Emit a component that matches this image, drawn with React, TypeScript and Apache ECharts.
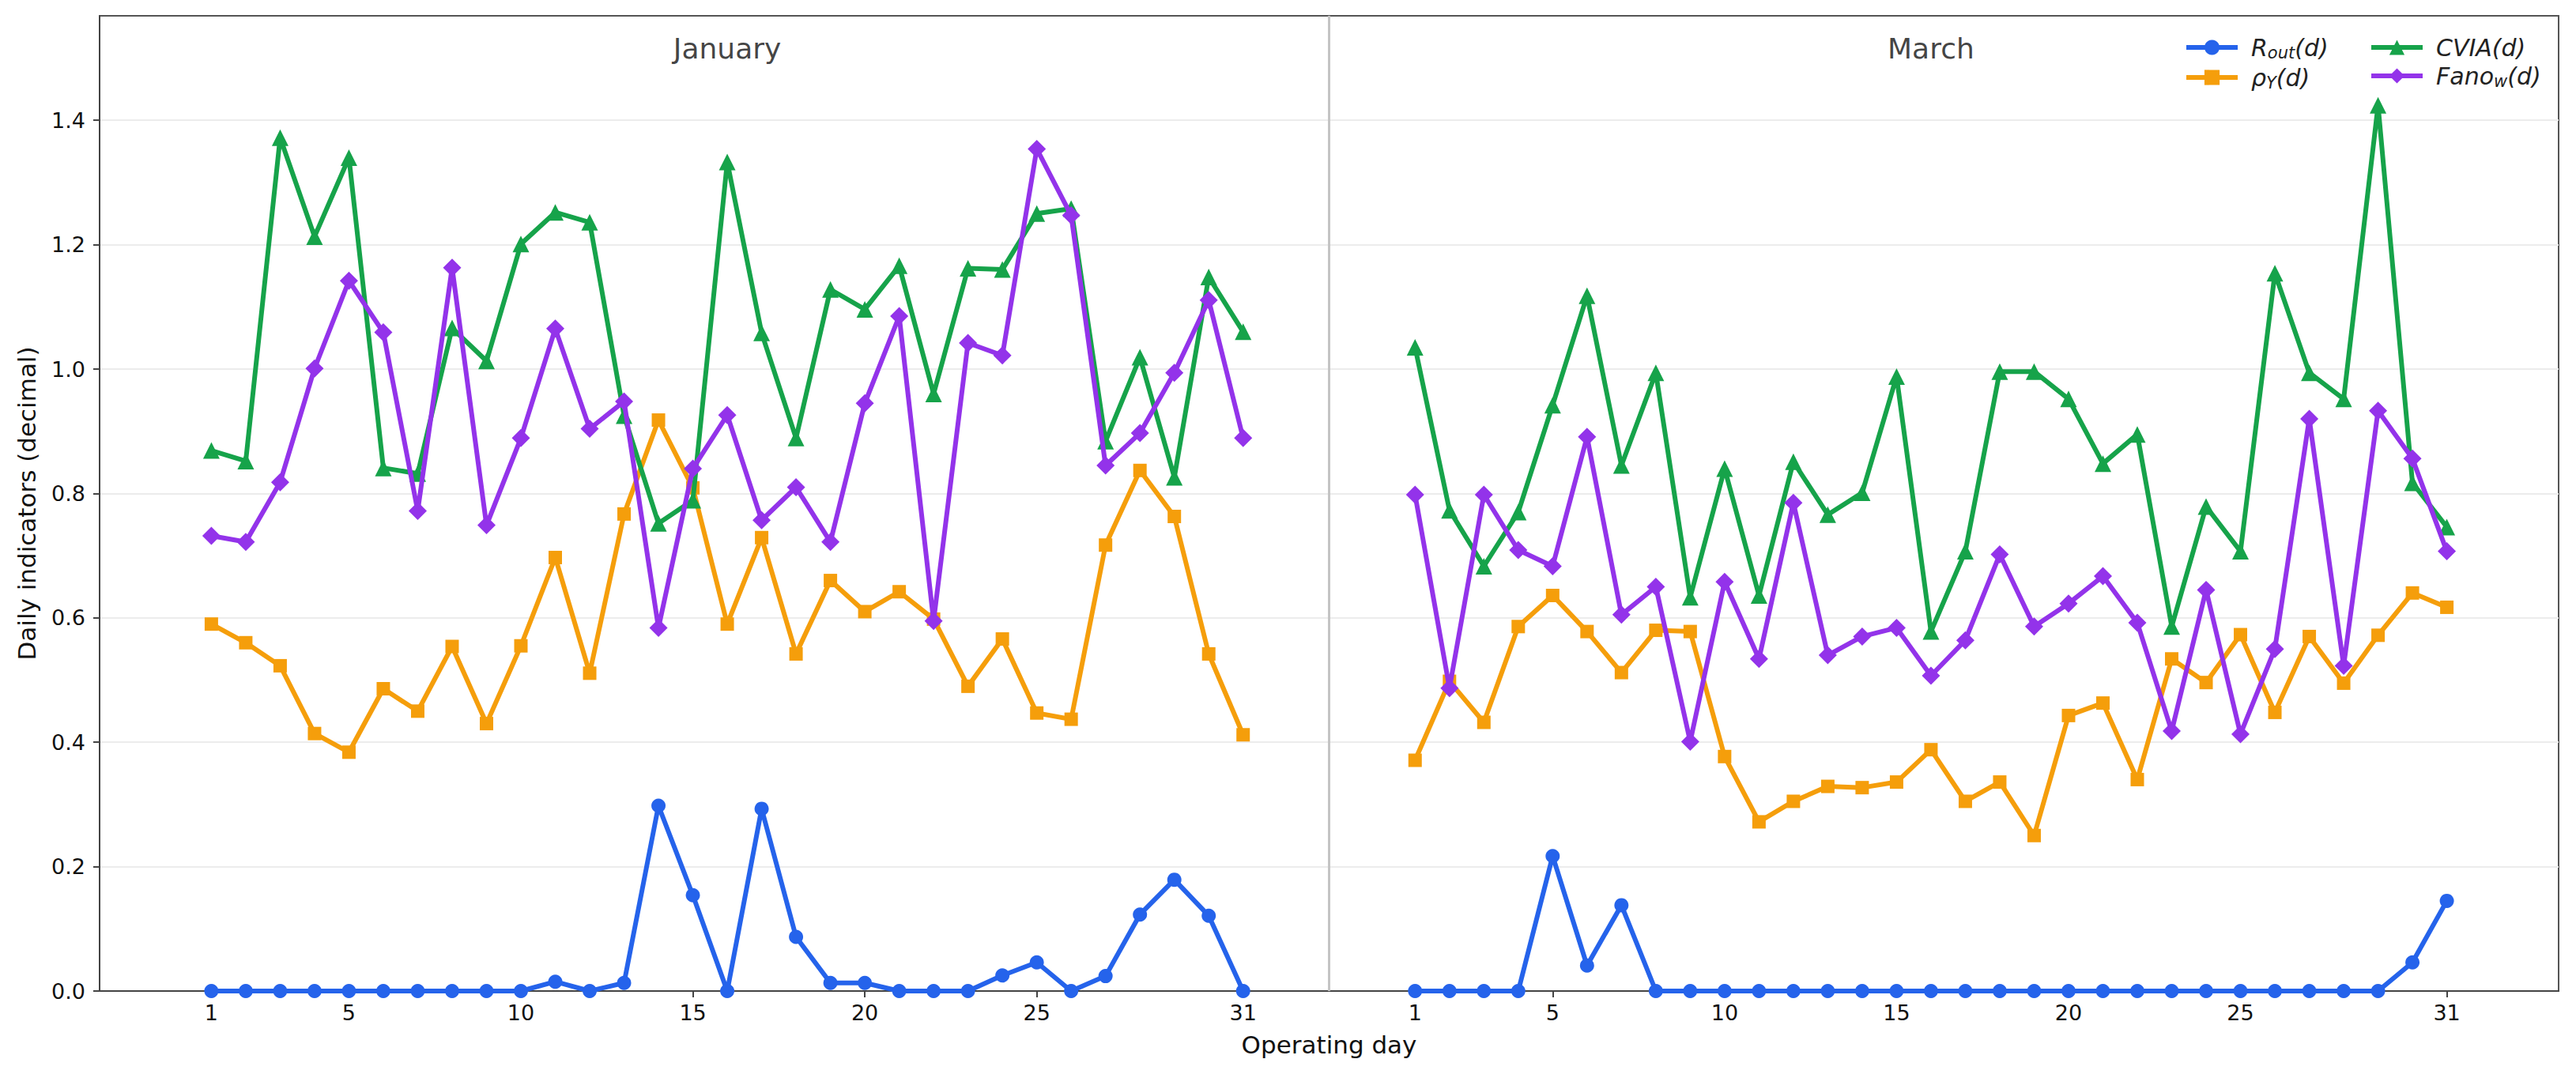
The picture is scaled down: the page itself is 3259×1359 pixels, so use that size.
import React, { useEffect, useRef } from "react";
import * as echarts from "echarts";

// ---- data ----
const JAN_DAYS = [1,2,3,4,5,6,7,8,9,10,11,12,13,14,15,16,17,18,19,20,21,22,23,24,25,26,27,28,29,30,31];
const MAR_DAYS = [1,2,3,4,5,6,7,8,9,10,11,12,13,14,15,16,17,18,19,20,21,22,23,24,25,26,27,28,29,30,31];
const MARCH_OFFSET = 35; // March day d is drawn at position d + 35 on the shared axis
const SEPARATOR_X = 33.5;
const TICK_DAYS = [1, 5, 10, 15, 20, 25, 31];
const Y_TICKS = [0, 0.2, 0.4, 0.6, 0.8, 1.0, 1.2, 1.4];
const PANEL_TITLES = [
  { text: "January", x: 16 },
  { text: "March", x: 16 + MARCH_OFFSET },
];

const ROUT_JAN = [0,0,0,0,0,0,0,0,0,0,0.015,0,0.013,0.298,0.154,0,0.293,0.087,0.013,0.013,0,0,0,0.025,0.046,0,0.024,0.123,0.179,0.121,0];
const ROUT_MAR = [0,0,0,0,0.217,0.041,0.138,0,0,0,0,0,0,0,0,0,0,0,0,0,0,0,0,0,0,0,0,0,0,0.046,0.145];

const RHO_JAN = [0.590,0.560,0.523,0.414,0.384,0.486,0.450,0.554,0.430,0.555,0.697,0.511,0.767,0.918,0.809,0.590,0.729,0.542,0.660,0.610,0.642,0.598,0.490,0.566,0.447,0.437,0.717,0.837,0.763,0.542,0.412];
const RHO_MAR = [0.371,0.498,0.432,0.586,0.636,0.578,0.512,0.580,0.578,0.377,0.272,0.305,0.329,0.327,0.336,0.388,0.305,0.336,0.250,0.443,0.463,0.340,0.534,0.496,0.573,0.448,0.570,0.495,0.572,0.640,0.617];

const CVIA_JAN = [0.869,0.852,1.372,1.213,1.340,0.841,0.832,1.066,1.013,1.201,1.252,1.236,0.925,0.752,0.789,1.333,1.058,0.889,1.128,1.096,1.166,0.960,1.162,1.160,1.250,1.258,0.884,1.019,0.826,1.148,1.060];
const CVIA_MAR = [1.035,0.773,0.683,0.770,0.942,1.118,0.845,0.994,0.633,0.840,0.636,0.851,0.766,0.801,0.988,0.578,0.707,0.996,0.996,0.952,0.848,0.895,0.586,0.779,0.707,1.154,0.994,0.952,1.424,0.817,0.746];

const FANO_JAN = [0.732,0.722,0.818,1.001,1.142,1.059,0.772,1.163,0.749,0.889,1.065,0.904,0.948,0.584,0.840,0.926,0.757,0.810,0.722,0.945,1.085,0.595,1.042,1.022,1.354,1.247,0.845,0.897,0.994,1.111,0.889];
const FANO_MAR = [0.798,0.487,0.798,0.709,0.683,0.891,0.605,0.650,0.401,0.658,0.534,0.785,0.540,0.570,0.584,0.507,0.564,0.702,0.586,0.623,0.667,0.592,0.418,0.645,0.413,0.550,0.920,0.523,0.933,0.856,0.707];

const INDICATORS = [
  { name: "Rout", jan: ROUT_JAN, mar: ROUT_MAR, color: "#2563eb", symbol: "circle", size: 18, label: "{f|R}{s|out}{i|(d)}" },
  { name: "rhoY", jan: RHO_JAN, mar: RHO_MAR, color: "#f59e0b", symbol: "rect", size: 17, label: "{f|ρ}{s|Y}{i|(d)}" },
  { name: "CVIA", jan: CVIA_JAN, mar: CVIA_MAR, color: "#16a34a", symbol: "triangle", size: 21, label: "{f|CVIA(d)}" },
  { name: "FanoW", jan: FANO_JAN, mar: FANO_MAR, color: "#9333ea", symbol: "diamond", size: 23, label: "{f|Fano}{s|w}{i|(d)}" },
];

const FONT = "DejaVu Sans";

export default function App() {
  const ref = useRef<HTMLDivElement>(null);

  useEffect(() => {
    if (!ref.current) return;
    const chart = echarts.init(ref.current, undefined, { renderer: "svg" });

    const tickPositions = [
      ...TICK_DAYS,
      ...TICK_DAYS.map((d) => d + MARCH_OFFSET),
    ];

    const labelMap: Record<string, string> = {};
    INDICATORS.forEach((s) => (labelMap[s.name] = s.label));

    const rich = {
      i: { fontFamily: FONT, fontSize: 30, fontStyle: "italic", color: "#222", lineHeight: 34 },
      f: { fontFamily: FONT, fontSize: 30, fontStyle: "italic", color: "#222", lineHeight: 34, padding: [0, 0, 0, 12] },
      s: { fontFamily: FONT, fontSize: 21, fontStyle: "italic", color: "#222", lineHeight: 16, verticalAlign: "bottom" },
    };

    const series: any[] = [];
    INDICATORS.forEach((s, idx) => {
      const common = {
        type: "line",
        name: s.name,
        symbol: s.symbol,
        symbolSize: s.size,
        showSymbol: true,
        lineStyle: { color: s.color, width: 6 },
        itemStyle: { color: s.color },
        z: 2 + idx,
        silent: true,
      };
      series.push({
        ...common,
        data: s.jan.map((v, i) => [JAN_DAYS[i], v]),
        markLine:
          idx === 0
            ? {
                silent: true,
                symbol: ["none", "none"],
                label: { show: false },
                lineStyle: { color: "#c4c4c4", width: 3, type: "solid" },
                data: [{ xAxis: SEPARATOR_X }],
              }
            : undefined,
      });
      series.push({
        ...common,
        data: s.mar.map((v, i) => [MAR_DAYS[i] + MARCH_OFFSET, v]),
      });
    });

    series.push({
      type: "scatter",
      name: "titles",
      silent: true,
      symbolSize: 1,
      itemStyle: { color: "rgba(0,0,0,0)" },
      data: PANEL_TITLES.map((t) => [t.x, 1.515, t.text]),
      label: {
        show: true,
        position: "inside",
        formatter: (p: any) => p.data[2],
        fontFamily: FONT,
        fontSize: 36,
        color: "#111",
      },
    });

    const legendBase = {
      orient: "vertical",
      top: 40,
      itemWidth: 65,
      itemHeight: 24,
      itemGap: 6,
      selectedMode: false,
      formatter: (name: string) => labelMap[name],
      lineStyle: { width: 6 },
      textStyle: { rich, fontFamily: FONT, fontSize: 30 },
    };

    chart.setOption({
      animation: false,
      backgroundColor: "#ffffff",
      textStyle: { fontFamily: FONT },
      grid: {
        left: 126,
        right: 22,
        top: 20,
        bottom: 105,
        show: true,
        borderColor: "#555",
        borderWidth: 2,
        outerBoundsMode: "none",
        containLabel: false,
      },
      legend: [
        { ...legendBase, left: 2758, data: ["Rout", "rhoY"] },
        { ...legendBase, left: 2992, data: ["CVIA", "FanoW"] },
      ],
      xAxis: {
        type: "value",
        min: -2.25,
        max: 69.25,
        name: "Operating day",
        nameLocation: "middle",
        nameGap: 52,
        nameTextStyle: { fontFamily: FONT, fontSize: 31, color: "#111" },
        axisLine: { show: true, onZero: false, lineStyle: { color: "#444", width: 2 } },
        axisTick: { show: true, length: 8, customValues: tickPositions, lineStyle: { color: "#444", width: 2 } },
        axisLabel: {
          customValues: tickPositions,
          margin: 14,
          fontFamily: FONT,
          fontSize: 27,
          color: "#111",
          formatter: (v: number) => String(v > SEPARATOR_X ? v - MARCH_OFFSET : v),
        },
        splitLine: { show: false },
      },
      yAxis: {
        type: "value",
        min: 0,
        max: 1.568,
        interval: 0.2,
        name: "Daily indicators (decimal)",
        nameLocation: "middle",
        nameGap: 77,
        nameTextStyle: { fontFamily: FONT, fontSize: 31, color: "#111" },
        axisLine: { show: true, onZero: false, lineStyle: { color: "#444", width: 2 } },
        axisTick: { show: true, length: 8, customValues: Y_TICKS, lineStyle: { color: "#444", width: 2 } },
        axisLabel: {
          customValues: Y_TICKS,
          margin: 18,
          fontFamily: FONT,
          fontSize: 27,
          color: "#111",
          formatter: (v: number) => v.toFixed(1),
        },
        splitLine: { show: true, lineStyle: { color: "#ececec", width: 2 } },
      },
      series,
    });

    return () => chart.dispose();
  }, []);

  return (
    <div
      ref={ref}
      style={{ position: "absolute", left: 0, top: 0, width: 3259, height: 1359, background: "#fff" }}
    />
  );
}
